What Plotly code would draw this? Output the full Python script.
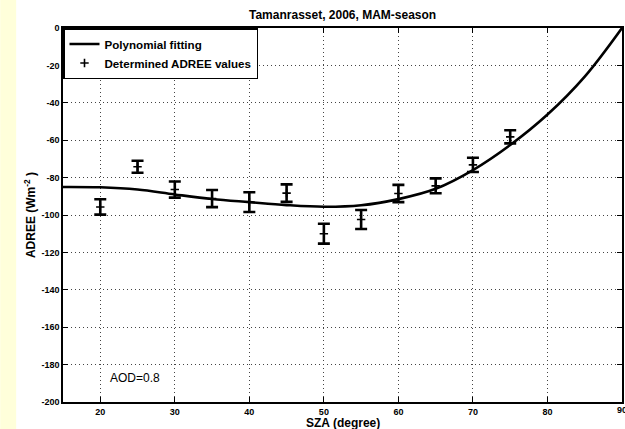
import plotly.graph_objects as go

# Determined ADREE values per solar zenith angle, with their uncertainty
sza = [20, 25, 30, 35, 40, 45, 50, 55, 60, 65, 70, 75]
adree = [-95.7, -74.2, -86.4, -91.2, -93.1, -88.3, -110.0, -102.4, -88.5, -84.4, -73.2, -58.2]
adree_err = [4.1, 3.2, 4.3, 4.6, 5.3, 4.7, 5.3, 5.1, 4.6, 4.0, 3.8, 3.5]

# Polynomial fitting curve, sampled every 5 degrees
fit_sza = [15, 20, 25, 30, 35, 40, 45, 50, 55, 60, 65, 70, 75, 80, 85, 90]
fit_adree = [-85.0, -85.2, -86.4, -89.0, -91.4, -93.1, -94.7, -95.6, -94.8, -91.5,
             -86.0, -76.0, -62.6, -46.3, -26.0, 0.0]

x_ticks = [20, 30, 40, 50, 60, 70, 80, 90]
y_ticks = [0, -20, -40, -60, -80, -100, -120, -140, -160, -180, -200]

W, H = 625, 429
ML, MR, MT, MB = 63, 1, 28, 27
PW, PH = W - ML - MR, H - MT - MB

FONT = "Liberation Sans, Arial, Helvetica, sans-serif"
TICK_FONT = dict(family=FONT, size=9, color="black", weight="bold")

fig = go.Figure()

fig.add_trace(go.Scatter(
    x=fit_sza, y=fit_adree, mode="lines",
    name="Polynomial fitting",
    line=dict(color="black", width=2.6, shape="spline", smoothing=1.0),
))

fig.add_trace(go.Scatter(
    x=sza, y=adree, mode="markers",
    name="Determined ADREE values",
    marker=dict(symbol="cross-thin", size=6, color="black",
                line=dict(color="black", width=1.6)),
    error_y=dict(type="data", array=adree_err, visible=True,
                 color="black", thickness=2.6, width=6),
))

axis_common = dict(
    showline=True, linecolor="black", linewidth=1.5, mirror="ticks",
    ticks="inside", ticklen=5, tickwidth=1, tickcolor="black",
    showgrid=True, gridcolor="#444444", gridwidth=1, griddash="1px,3px",
    zeroline=False,
    tickfont=TICK_FONT,
)

fig.update_xaxes(range=[15, 90], tickvals=x_ticks,
                 ticktext=[str(v) for v in x_ticks], **axis_common)
fig.update_yaxes(range=[-200, 0], tickvals=y_ticks,
                 ticktext=[str(v) for v in y_ticks], **axis_common)

# the last x tick label sits on the right edge of the page and is dropped by
# the axis, so it is written as an annotation anchored at that tick
edge_labels = [
    dict(text=str(x_ticks[-1]), xref="x", yref="paper",
         x=x_ticks[-1], y=-(410 - (H - MB)) / PH,
         xanchor="center", yanchor="middle", showarrow=False,
         font=TICK_FONT),
]

fig.update_layout(
    width=W, height=H, autosize=False,
    margin=dict(l=ML, r=MR, t=MT, b=MB, pad=0),
    paper_bgcolor="white", plot_bgcolor="white",
    font=dict(family=FONT, color="black"),
    showlegend=True,
    legend=dict(
        x=0, y=1, xanchor="left", yanchor="top",
        bgcolor="white", bordercolor="black", borderwidth=1.5,
        font=dict(family=FONT, size=11.6, color="black", weight="bold"),
        tracegroupgap=0, itemwidth=30,
    ),
    shapes=[
        # pale yellow band at the far left of the page
        dict(type="rect", xref="paper", yref="paper",
             x0=-ML / PW, x1=(16 - ML) / PW,
             y0=-MB / PH, y1=1 + MT / PH,
             fillcolor="#FFFFDA", line=dict(width=0), layer="below"),
    ],
    annotations=[
        dict(text="Tamanrasset, 2006, MAM-season", xref="paper", yref="paper",
             x=0.5, y=1 + (MT - 15) / PH, xanchor="center", yanchor="middle",
             showarrow=False,
             font=dict(family=FONT, size=12, color="black", weight="bold")),
        dict(text="SZA (degree)", xref="paper", yref="paper",
             x=0.5, y=-(423 - (H - MB)) / PH, xanchor="center", yanchor="middle",
             showarrow=False,
             font=dict(family=FONT, size=12, color="black", weight="bold")),
        dict(text="ADREE (Wm<sup>-2</sup> )", xref="paper", yref="paper",
             x=(30 - ML) / PW, y=0.5, xanchor="center", yanchor="middle",
             textangle=-90, showarrow=False,
             font=dict(family=FONT, size=12, color="black", weight="bold")),
        dict(text="AOD=0.8", xref="x", yref="y",
             x=24.7, y=-187.4, xanchor="center", yanchor="middle",
             showarrow=False,
             font=dict(family=FONT, size=12, color="black")),
    ] + edge_labels,
)

fig.write_html("out.html")
